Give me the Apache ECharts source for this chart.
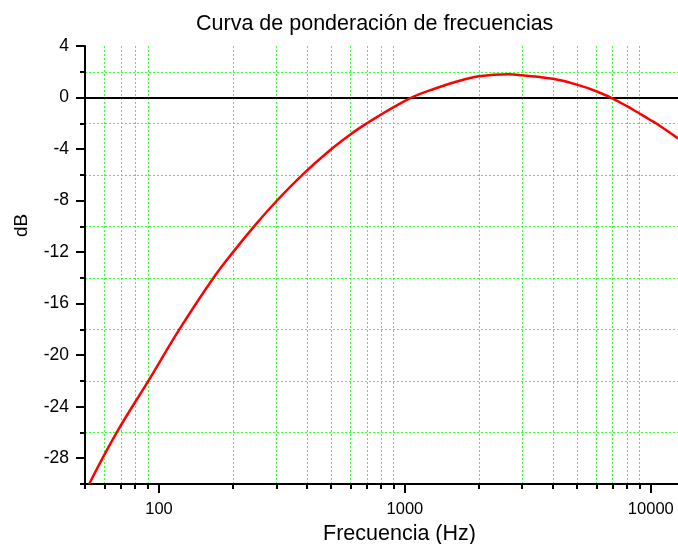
<!DOCTYPE html>
<html>
<head>
<meta charset="utf-8">
<script src="https://cdn.jsdelivr.net/npm/echarts@6/dist/echarts.min.js"></script>
<style>
  html, body { margin: 0; padding: 0; background: #fff; }
  #chart { width: 678px; height: 544px; }
</style>
</head>
<body>
<div id="chart"></div>
<script>
// curva (Hz, dB)
const freq = [52, 67.3, 90.5, 121, 165, 200, 243.6, 300, 383, 500, 600, 700, 800, 900,
  1063, 1270, 1600, 2000, 2650, 3000, 4000, 5000, 6000, 7000, 8000, 9000, 10000, 10500, 12900];
const dB = [-30, -26, -22, -18, -14.1, -12.0, -10, -8.05, -6, -4.04, -2.87, -2.0, -1.32, -0.75,
  0, 0.57, 1.2, 1.65, 1.81, 1.73, 1.45, 1.0, 0.49, -0.08, -0.67, -1.24, -1.76, -2.0, -3.17];

const xMajor = [100, 1000, 10000];
const xMinor = [50, 60, 70, 80, 90, 200, 300, 400, 500, 600, 700, 800, 900,
  2000, 3000, 4000, 5000, 6000, 7000, 8000, 9000];
const yMajor = [-28, -24, -20, -16, -12, -8, -4, 0, 4];
const yMinor = [-30, -26, -22, -18, -14, -10, -6, -2, 2];

const chart = echarts.init(document.getElementById('chart'));
const font = 'Liberation Sans, Arial, sans-serif';
const gridGreen = { color: '#33ff33', width: 1, type: [2, 2] };

const option = {
  animation: false,
  textStyle: { fontFamily: font },
  title: {
    text: 'Curva de ponderación de frecuencias',
    left: 191, top: 8,
    textStyle: { fontSize: 21.5, fontWeight: 'normal', color: '#000', fontFamily: font }
  },
  graphic: [{
    type: 'text', x: 12, y: 237, rotation: Math.PI / 2,
    style: { text: 'dB', fontSize: 19, fill: '#000', fontFamily: font }
  }],
  grid: { left: 85, right: 0, top: 46, bottom: 60, containLabel: false, outerBoundsMode: 'none' },
  xAxis: [{
    type: 'log', logBase: 10, min: 50, max: 12900,
    name: 'Frecuencia (Hz)', nameLocation: 'middle', nameGap: 37,
    nameTextStyle: { fontSize: 21.5, color: '#000', fontFamily: font, padding: [0, 0, 0, 36] },
    axisLine: { onZero: false, lineStyle: { color: '#000', width: 2 } },
    axisTick: { customValues: xMajor, length: 9, lineStyle: { color: '#000', width: 2 } },
    axisLabel: {
      customValues: xMajor, margin: 17, fontSize: 16.5, color: '#000', fontFamily: font,
      formatter: v => String(v)
    },
    splitLine: { show: false }
  }, {
    type: 'log', logBase: 10, min: 50, max: 12900, position: 'bottom',
    axisLine: { show: false, onZero: false },
    axisTick: { customValues: xMinor, length: 5, lineStyle: { color: '#000', width: 2 } },
    axisLabel: { show: false },
    splitLine: { show: true, lineStyle: gridGreen }
  }],
  yAxis: [{
    type: 'value', min: -30, max: 4, position: 'left',
    axisLine: { show: true, onZero: false, lineStyle: { color: '#000', width: 2 } },
    axisTick: { show: true, customValues: yMajor, length: 9, lineStyle: { color: '#000', width: 2 } },
    axisLabel: { customValues: yMajor, margin: 16, fontSize: 17.5, color: '#000', fontFamily: font },
    splitLine: { show: false }
  }, {
    type: 'value', min: -30, max: 4, position: 'left', offset: 0,
    axisLine: { show: false, onZero: false },
    axisTick: { show: true, customValues: yMinor, length: 5, lineStyle: { color: '#000', width: 2 } },
    axisLabel: { show: false },
    splitLine: { show: true, lineStyle: gridGreen }
  }],
  series: [{
    type: 'line',
    data: freq.map((f, i) => [f, dB[i]]),
    smooth: 0.4,
    showSymbol: false,
    clip: true,
    lineStyle: { color: '#ff0000', width: 2.5 },
    z: 5,
    markLine: {
      silent: true, symbol: 'none', label: { show: false },
      lineStyle: { color: '#000', width: 2, type: 'solid' },
      data: [{ yAxis: 0 }]
    }
  }]
};

chart.setOption(option);
</script>
</body>
</html>
